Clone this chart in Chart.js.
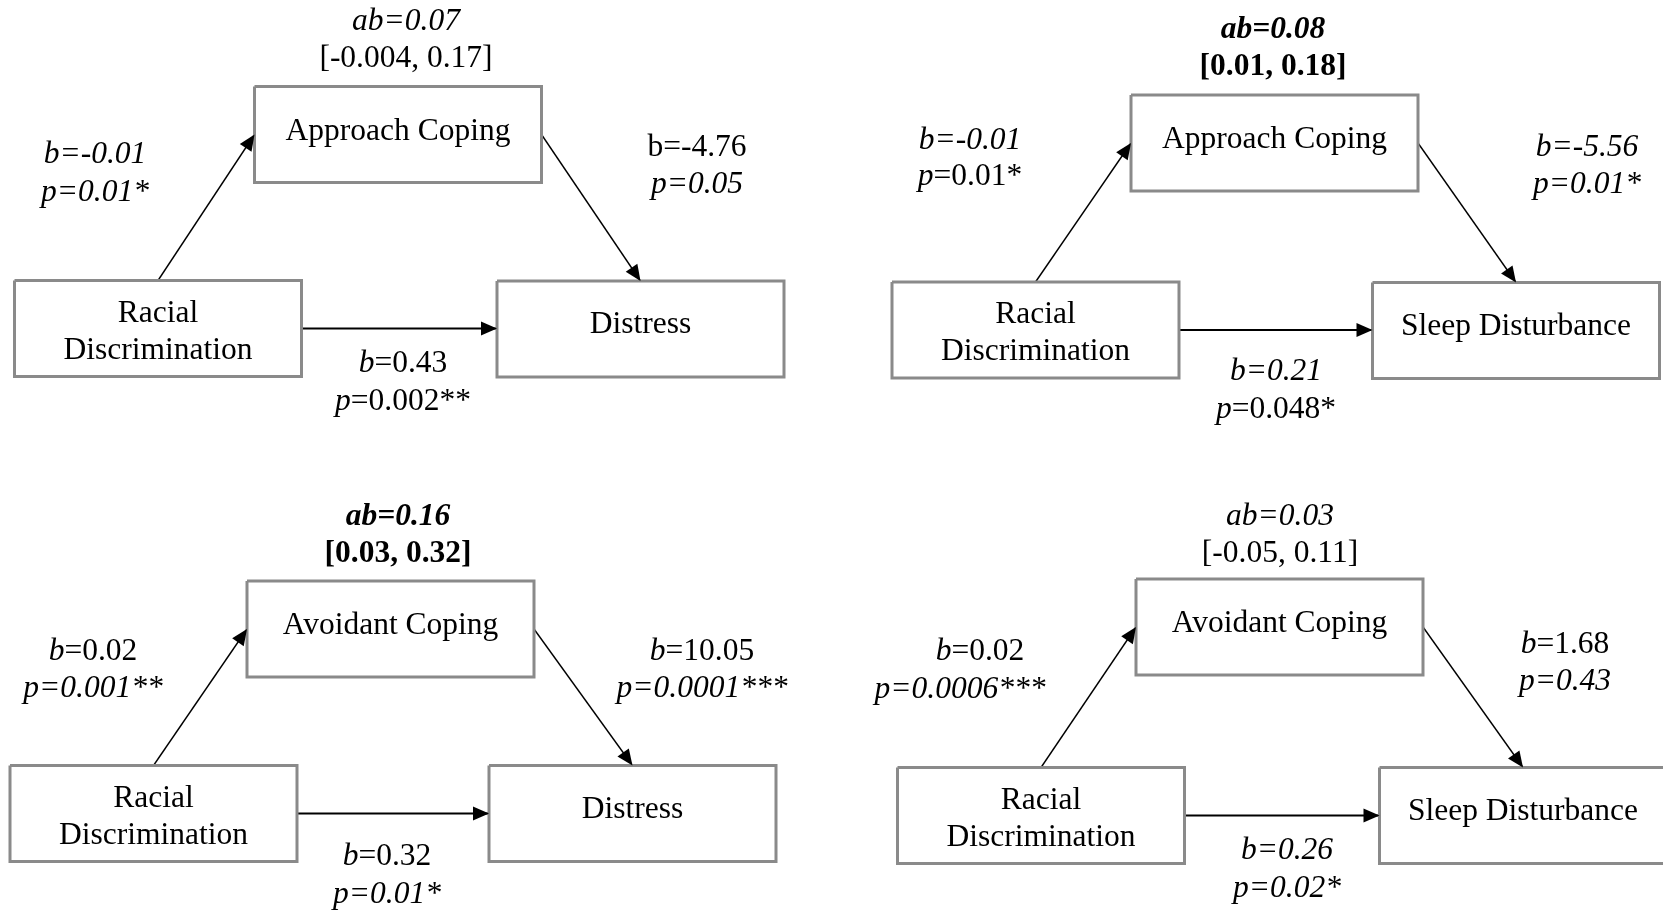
<!DOCTYPE html>
<html>
<head>
<meta charset="utf-8">
<script src="https://cdn.jsdelivr.net/npm/chart.js@4.4.1/dist/chart.umd.min.js"></script>
<style>
  html, body { margin: 0; padding: 0; background: #ffffff; }
  canvas { display: block; }
</style>
</head>
<body>
<canvas id="diagrama" width="1663" height="910"></canvas>
<script>
// Datos de los cuatro modelos de mediación
const predictorLabel = ['Racial', 'Discrimination'];
const mediatorLabels = ['Approach Coping', 'Approach Coping', 'Avoidant Coping', 'Avoidant Coping'];
const outcomeLabels = ['Distress', 'Sleep Disturbance', 'Distress', 'Sleep Disturbance'];

// camino a (predictor -> mediador)
const pathA_b = ['-0.01', '-0.01', '0.02', '0.02'];
const pathA_p = ['0.01*', '0.01*', '0.001**', '0.0006***'];
// camino b (mediador -> resultado)
const pathB_b = ['-4.76', '-5.56', '10.05', '1.68'];
const pathB_p = ['0.05', '0.01*', '0.0001***', '0.43'];
// camino c' (directo)
const pathC_b = ['0.43', '0.21', '0.32', '0.26'];
const pathC_p = ['0.002**', '0.048*', '0.01*', '0.02*'];
// efecto indirecto e intervalo
const indirectAb = ['0.07', '0.08', '0.16', '0.03'];
const indirectCI = ['[-0.004, 0.17]', '[0.01, 0.18]', '[0.03, 0.32]', '[-0.05, 0.11]'];
const indirectSignificant = [false, true, true, false];

// Disposición (unidades del eje) de cada panel: centros de las cajas y de las etiquetas
const layout = [
    { pred: [158, 328.5], med: [398, 134.5], out: [640.5, 329],
      ab: [406, 22], a: [95, 155], ap: [95, 193], b: [697, 148], c: [403, 364] },
    { pred: [1035.5, 330], med: [1274.5, 143], out: [1516, 330.5],
      ab: [1273, 30], a: [970, 141], ap: [970, 177], b: [1587, 148], c: [1276, 372] },
    { pred: [153.5, 813.5], med: [390.5, 629], out: [632.5, 813.5],
      ab: [398, 517], a: [93, 652], ap: [93, 689], b: [702, 652], c: [387, 857] },
    { pred: [1041, 815.5], med: [1279.5, 627], out: [1523, 815.5],
      ab: [1280, 517], a: [980, 652], ap: [960, 690], b: [1565, 645], c: [1287, 851] }
];
const boxW = 287;
const boxH = 96;
// estilo de cursiva de cada etiqueta: I = todo cursiva, L = solo la letra, N = nada
const italicStyle = [
    { ab: 'I', ap: 'I', bb: 'N', bp: 'I', cb: 'L', cp: 'L' },
    { ab: 'I', ap: 'L', bb: 'I', bp: 'I', cb: 'I', cp: 'L' },
    { ab: 'L', ap: 'I', bb: 'L', bp: 'I', cb: 'L', cp: 'I' },
    { ab: 'L', ap: 'I', bb: 'L', bp: 'I', cb: 'I', cp: 'I' }
];

const FUENTE = '"Liberation Serif", "Times New Roman", serif';
const TAM = 31.5;

function boxPoints(c) {
    const l = c[0] - boxW / 2, r = c[0] + boxW / 2, t = c[1] - boxH / 2, b = c[1] + boxH / 2;
    return [{ x: l, y: t }, { x: r, y: t }, { x: r, y: b }, { x: l, y: b }, { x: l, y: t }];
}

function arrowsFor(L) {
    return [
        [{ x: L.pred[0], y: L.pred[1] - boxH / 2 }, { x: L.med[0] - boxW / 2, y: L.med[1] }],
        [{ x: L.med[0] + boxW / 2, y: L.med[1] }, { x: L.out[0], y: L.out[1] - boxH / 2 }],
        [{ x: L.pred[0] + boxW / 2, y: L.pred[1] }, { x: L.out[0] - boxW / 2, y: L.pred[1] }]
    ];
}

const datasets = [];
layout.forEach(L => {
    [L.pred, L.med, L.out].forEach(c => {
        datasets.push({ type: 'line', data: boxPoints(c), borderColor: '#8a8a8a', borderWidth: 3,
            pointRadius: 0, fill: false, tension: 0 });
    });
    arrowsFor(L).forEach((seg, i) => {
        datasets.push({ type: 'line', data: seg, borderColor: '#000000', borderWidth: i === 2 ? 2 : 1.4,
            pointRadius: 0, fill: false, tension: 0 });
    });
});

function parts(letter, value, mode) {
    if (mode === 'I') return [{ t: letter + '=' + value, i: true }];
    if (mode === 'L') return [{ t: letter, i: true }, { t: '=' + value, i: false }];
    return [{ t: letter + '=' + value, i: false }];
}

function drawRich(ctx, segs, cx, cy, bold) {
    const font = s => (s.i ? 'italic ' : '') + (bold ? 'bold ' : '') + TAM + 'px ' + FUENTE;
    let w = 0;
    segs.forEach(s => { ctx.font = font(s); w += ctx.measureText(s.t).width; });
    let x = cx - w / 2;
    ctx.textAlign = 'left';
    ctx.textBaseline = 'middle';
    ctx.fillStyle = '#000000';
    segs.forEach(s => { ctx.font = font(s); ctx.fillText(s.t, x, cy); x += ctx.measureText(s.t).width; });
}

function arrowHead(ctx, x0, y0, x1, y1) {
    const ang = Math.atan2(y1 - y0, x1 - x0);
    const len = 16, half = 7;
    ctx.beginPath();
    ctx.moveTo(x1, y1);
    ctx.lineTo(x1 - len * Math.cos(ang) + half * Math.sin(ang), y1 - len * Math.sin(ang) - half * Math.cos(ang));
    ctx.lineTo(x1 - len * Math.cos(ang) - half * Math.sin(ang), y1 - len * Math.sin(ang) + half * Math.cos(ang));
    ctx.closePath();
    ctx.fillStyle = '#000000';
    ctx.fill();
}

const diagramPlugin = {
    id: 'diagrama',
    afterDatasetsDraw(chart) {
        const ctx = chart.ctx;
        const sx = chart.scales.x, sy = chart.scales.y;
        const px = v => sx.getPixelForValue(v), py = v => sy.getPixelForValue(v);
        ctx.save();
        layout.forEach((L, k) => {
            const st = italicStyle[k];
            // puntas de flecha
            arrowsFor(L).forEach(seg => {
                arrowHead(ctx, px(seg[0].x), py(seg[0].y), px(seg[1].x), py(seg[1].y));
            });
            // texto de las cajas
            drawRich(ctx, [{ t: predictorLabel[0], i: false }], px(L.pred[0]), py(L.pred[1] - 15), false);
            drawRich(ctx, [{ t: predictorLabel[1], i: false }], px(L.pred[0]), py(L.pred[1] + 22), false);
            drawRich(ctx, [{ t: mediatorLabels[k], i: false }], px(L.med[0]), py(L.med[1] - 3), false);
            drawRich(ctx, [{ t: outcomeLabels[k], i: false }], px(L.out[0]), py(L.out[1] - 4), false);
            // efecto indirecto
            const sig = indirectSignificant[k];
            drawRich(ctx, [{ t: 'ab=' + indirectAb[k], i: true }], px(L.ab[0]), py(L.ab[1]), sig);
            drawRich(ctx, [{ t: indirectCI[k], i: false }], px(L.ab[0]), py(L.ab[1] + 37), sig);
            // coeficientes
            drawRich(ctx, parts('b', pathA_b[k], st.ab), px(L.a[0]), py(L.a[1]), false);
            drawRich(ctx, parts('p', pathA_p[k], st.ap), px(L.ap[0]), py(L.ap[1]), false);
            drawRich(ctx, parts('b', pathB_b[k], st.bb), px(L.b[0]), py(L.b[1]), false);
            drawRich(ctx, parts('p', pathB_p[k], st.bp), px(L.b[0]), py(L.b[1] + 37), false);
            drawRich(ctx, parts('b', pathC_b[k], st.cb), px(L.c[0]), py(L.c[1]), false);
            drawRich(ctx, parts('p', pathC_p[k], st.cp), px(L.c[0]), py(L.c[1] + 38), false);
        });
        ctx.restore();
    }
};

new Chart(document.getElementById('diagrama').getContext('2d'), {
    type: 'scatter',
    data: { datasets: datasets },
    options: {
        responsive: false,
        animation: false,
        events: [],
        layout: { padding: 0 },
        plugins: { legend: { display: false }, tooltip: { enabled: false } },
        scales: {
            x: { type: 'linear', min: 0, max: 1663, display: false },
            y: { type: 'linear', min: 0, max: 910, reverse: true, display: false }
        }
    },
    plugins: [diagramPlugin]
});
</script>
</body>
</html>
